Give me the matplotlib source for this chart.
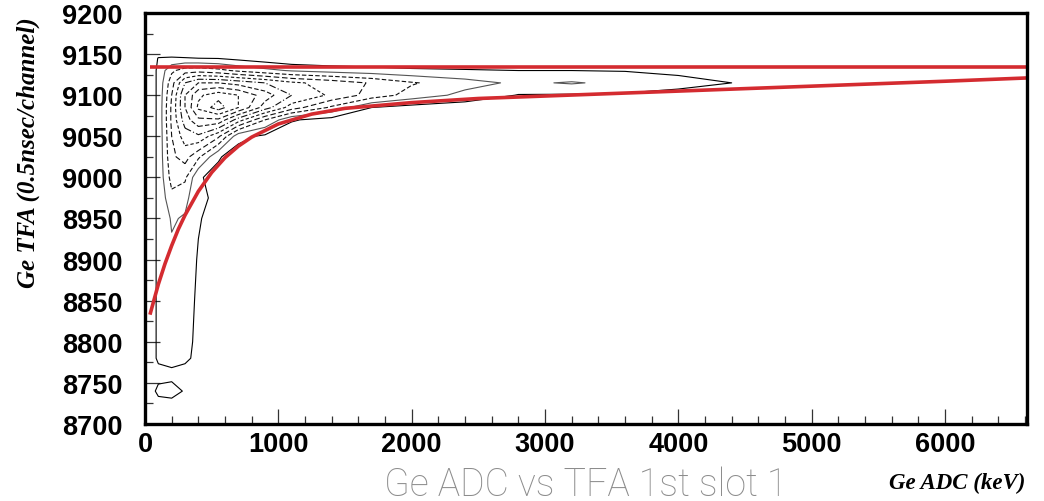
import matplotlib.pyplot as plt
import numpy as np

# Ge ADC (keV) grid nodes and Ge TFA grid nodes of the binned counts
adc_nodes = [0, 100, 200, 300, 400, 550, 700, 900, 1100, 1400, 1700,
             2000, 2400, 2800, 3200, 3600, 4000, 4400, 4800, 5200, 6600]
tfa_nodes = [8700, 8725, 8740, 8760, 8780, 8800, 8850, 8900, 8950, 8975,
             9000, 9025, 9050, 9070, 9085, 9100, 9115, 9130, 9145, 9160, 9200]

# counts per cell (rows follow tfa_nodes, columns follow adc_nodes)
counts = [
    [0, 0, 0, 0, 0, 0, 0, 0, 0, 0, 0, 0, 0, 0, 0, 0, 0, 0, 0, 0, 0],
    [0, .6, .7, .3, 0, 0, 0, 0, 0, 0, 0, 0, 0, 0, 0, 0, 0, 0, 0, 0, 0],
    [0, 1.3, 1.4, .9, 0, 0, 0, 0, 0, 0, 0, 0, 0, 0, 0, 0, 0, 0, 0, 0, 0],
    [0, .6, .7, .4, 0, 0, 0, 0, 0, 0, 0, 0, 0, 0, 0, 0, 0, 0, 0, 0, 0],
    [0, 1.2, 1.4, 1.3, .6, 0, 0, 0, 0, 0, 0, 0, 0, 0, 0, 0, 0, 0, 0, 0, 0],
    [0, 1.2, 1.5, 1.4, .7, 0, 0, 0, 0, 0, 0, 0, 0, 0, 0, 0, 0, 0, 0, 0, 0],
    [0, 1.2, 1.6, 1.5, .8, 0, 0, 0, 0, 0, 0, 0, 0, 0, 0, 0, 0, 0, 0, 0, 0],
    [0, 1.2, 1.8, 1.7, .9, .2, 0, 0, 0, 0, 0, 0, 0, 0, 0, 0, 0, 0, 0, 0, 0],
    [0, 1.2, 2.1, 1.9, 1.1, .5, .1, 0, 0, 0, 0, 0, 0, 0, 0, 0, 0, 0, 0, 0, 0],
    [0, 1.2, 2.7, 2.3, 1.2, .8, .3, 0, 0, 0, 0, 0, 0, 0, 0, 0, 0, 0, 0, 0, 0],
    [0, 1.2, 3.4, 3.2, 1.1, .7, .3, 0, 0, 0, 0, 0, 0, 0, 0, 0, 0, 0, 0, 0, 0],
    [0, 1.2, 3.8, 4.4, 3.2, 1.1, .5, .1, 0, 0, 0, 0, 0, 0, 0, 0, 0, 0, 0, 0, 0],
    [0, 1.2, 4.0, 5.5, 5.8, 4.2, 1.3, .8, .3, 0, 0, 0, 0, 0, 0, 0, 0, 0, 0, 0, 0],
    [0, 1.2, 4.2, 6.5, 7.8, 7.8, 5.5, 3.0, 1.1, .6, .3, .1, 0, 0, 0, 0, 0, 0, 0, 0, 0],
    [0, 1.2, 4.2, 7.0, 9.2, 10.5, 9.0, 6.5, 4.5, 2.8, 1.0, .6, .4, .3, .2, .1, 0, 0, 0, 0, 0],
    [0, 1.2, 4.0, 7.0, 8.8, 9.6, 9.0, 7.5, 6.0, 4.8, 3.6, 2.6, 1.7, .95, .9, .85, .7, .5, .3, 0, 0],
    [0, 1.2, 3.6, 6.0, 7.0, 7.0, 6.6, 6.0, 5.2, 4.6, 3.9, 3.1, 2.4, 1.8, 2.1, 1.7, 1.3, 1.0, .8, .3, 0],
    [0, 1.2, 2.8, 3.5, 3.6, 3.3, 2.8, 2.3, 1.9, 1.6, 1.4, 1.2, 1.1, 1.0, 1.0, .95, .8, .6, .3, 0, 0],
    [0, 1.05, 1.1, 1.05, 1.0, .95, .7, .4, .1, 0, 0, 0, 0, 0, 0, 0, 0, 0, 0, 0, 0],
    [0, 0, 0, 0, 0, 0, 0, 0, 0, 0, 0, 0, 0, 0, 0, 0, 0, 0, 0, 0, 0],
    [0, 0, 0, 0, 0, 0, 0, 0, 0, 0, 0, 0, 0, 0, 0, 0, 0, 0, 0, 0, 0],
]
levels = [1, 2, 3, 4, 5, 6, 7, 8, 9, 10]

# walk correction curve (points along the fitted line)
walk_adc = [37, 100, 150, 200, 250, 300, 400, 500, 600, 700, 800, 1000,
            1250, 1500, 2000, 2500, 3000, 4000, 5000, 6000, 6615]
walk_tfa = [8833, 8870, 8895, 8917, 8937, 8954, 8983, 9006, 9024, 9038,
            9049, 9065, 9077, 9084, 9091, 9096, 9099, 9105, 9111, 9117, 9121]
# upper time cut
cut_tfa = 9134
cut_adc = [37, 6615]

red = '#d42b30'

fig = plt.figure(figsize=(10.44, 5.02), dpi=100)
ax = fig.add_axes([0.1389, 0.1534, 0.8448, 0.8187])

styles = ['-', '-', (0, (4, 2)), (0, (5, 2.5)), (0, (3, 2)), (0, (6, 2, 1, 2)),
          (0, (4, 2)), (0, (5, 2.5)), (0, (3, 2)), (0, (6, 2, 1, 2))]
cols = ['black', '#555555'] + ['#111111'] * 8
ax.contour(adc_nodes, tfa_nodes, np.array(counts), levels=levels,
           colors=cols, linestyles=styles, linewidths=0.8)

ax.plot(cut_adc, [cut_tfa, cut_tfa], color=red, lw=2.6, solid_capstyle='butt')
ax.plot(walk_adc, walk_tfa, color=red, lw=2.6, solid_capstyle='butt')

ax.set_xlim(0, 6615)
ax.set_ylim(8700, 9200)
ax.set_xticks(range(0, 7000, 1000))
ax.set_xticks(range(0, 6615, 200), minor=True)
ax.set_yticks(range(8700, 9201, 50))
ax.set_yticks(range(8700, 9201, 25), minor=True)
ax.tick_params(which='both', direction='in', width=0.9, colors='#333333')
ax.tick_params(which='major', length=11)
ax.tick_params(which='minor', length=5.5)
ax.tick_params(axis='y', which='major', pad=16)
ax.tick_params(axis='x', which='major', pad=5)
for lab in ax.get_xticklabels() + ax.get_yticklabels():
    lab.set_fontfamily('Liberation Sans')
    lab.set_fontweight('bold')
    lab.set_fontsize(19.5)
    lab.set_color('black')
for sp in ax.spines.values():
    sp.set_linewidth(2.4)

fig.text(0.027, 0.695, 'Ge TFA (0.5nsec/channel)', rotation=90,
         family='Liberation Serif', weight='bold', style='italic',
         fontsize=18, ha='center', va='center')
fig.text(0.982, 0.036, 'Ge ADC (keV)', family='Liberation Serif',
         weight='bold', style='italic', fontsize=16.5, ha='right', va='center')
fig.text(0.561, 0.034, 'Ge ADC vs TFA 1st slot 1', family=['Roboto', 'DejaVu Sans'],
         weight='light', fontsize=27, color='#8c8c8c', ha='center', va='center')

fig.savefig('out.png', dpi=100)
